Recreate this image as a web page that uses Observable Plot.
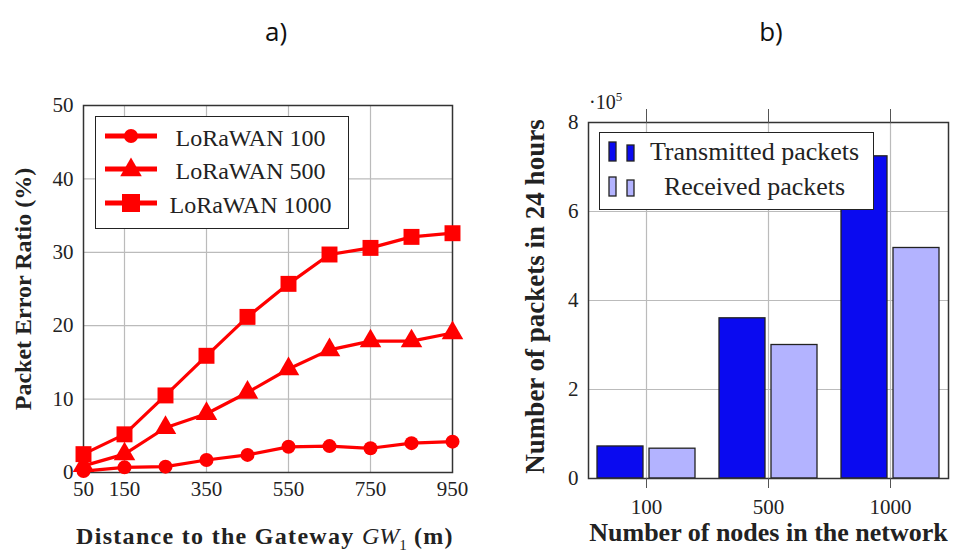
<!DOCTYPE html>
<html><head><meta charset="utf-8">
<script src="https://cdn.jsdelivr.net/npm/d3@7"></script>
<script src="https://cdn.jsdelivr.net/npm/@observablehq/plot@0.6"></script>
<style>
html,body{margin:0;padding:0;background:#fff;}
#wrap{position:relative;width:965px;height:553px;overflow:hidden;font-family:"Liberation Serif","DejaVu Serif",serif;color:#222;}
#wrap svg{position:absolute;top:0;}
.title{position:absolute;top:13px;font-family:"Open Sans","Liberation Sans",sans-serif;font-size:26px;color:#111;width:60px;text-align:center;}
.legend{position:absolute;background:#fff;border:1.5px solid #222;box-sizing:border-box;}
.row{position:absolute;left:0;right:0;height:32px;display:flex;align-items:center;}
.xlab{position:absolute;font-weight:bold;font-size:24px;letter-spacing:1.3px;text-align:center;line-height:28px;}
</style></head>
<body><div id="wrap"></div>
<script>
// ---- data: chart a) ----
const distance = [50,150,250,350,450,550,650,750,850,950];
const per100  = [0.2,0.7,0.8,1.7,2.4,3.5,3.6,3.3,4.0,4.2];
const per500  = [0.9,2.5,6.1,8.0,10.9,14.1,16.7,17.9,17.9,19.0];
const per1000 = [2.5,5.2,10.5,15.9,21.2,25.7,29.7,30.6,32.1,32.6];
const seriesNames = ["LoRaWAN 100","LoRaWAN 500","LoRaWAN 1000"];
const xTicksA = [50,150,350,550,750,950];
const yTicksA = [0,10,20,30,40,50];
// ---- data: chart b) ----
const nodes = ["100","500","1000"];
const transmitted = [72000,360000,724000];
const received = [67000,300000,518000];
const barSeries = ["Transmitted packets","Received packets"];
const yTicksB = [0,200000,400000,600000,800000];

const FONT = '"Liberation Serif","DejaVu Serif",serif';
const wrap = document.getElementById("wrap");
const red = "#ff0000";

const tableA = [];
[per100, per500, per1000].forEach((arr, k) => arr.forEach((v, i) => tableA.push({series: seriesNames[k], d: distance[i], v})));
const symbols = {"LoRaWAN 100": "circle", "LoRaWAN 500": "triangle", "LoRaWAN 1000": "square"};
const sizes = {"LoRaWAN 100": 7, "LoRaWAN 500": 8, "LoRaWAN 1000": 9};

const plotA = Plot.plot({
  width: 480, height: 553,
  marginLeft: 83, marginRight: 28, marginTop: 105, marginBottom: 81,
  style: {fontFamily: FONT, fontSize: "21px", color: "#222", background: "transparent", overflow: "visible"},
  x: {domain: [50, 950], ticks: xTicksA},
  y: {domain: [0, 50], ticks: yTicksA},
  symbol: {type: "identity"},
  marks: [
    Plot.gridX(xTicksA.slice(1, -1), {stroke: "#bbb", strokeOpacity: 1, strokeWidth: 1.2}),
    Plot.gridY(yTicksA.slice(1, -1), {stroke: "#bbb", strokeOpacity: 1, strokeWidth: 1.2}),
    Plot.frame({stroke: "#333", strokeWidth: 1.5}),
    Plot.axisX(xTicksA, {tickSize: 0, tickPadding: 9, label: null, fontFamily: FONT, fontSize: 21}),
    Plot.axisY(yTicksA, {tickSize: 0, tickPadding: 10, label: null, fontFamily: FONT, fontSize: 21}),
    Plot.line(tableA, {x: "d", y: "v", z: "series", stroke: red, strokeWidth: 3.2}),
    ...seriesNames.map(s => Plot.dot(tableA.filter(r => r.series === s), {x: "d", y: "v", symbol: () => symbols[s], r: sizes[s], fill: red, stroke: "none"})),
    Plot.text(["Packet Error Ratio (%)"], {frameAnchor: "left", textAnchor: "middle", rotate: -90, dx: -60, fontWeight: "bold", fontSize: 24, letterSpacing: 0.7, fill: "#222"})
  ]
});
plotA.style.left = "0px";
wrap.appendChild(plotA);

const tableB = [];
nodes.forEach((n, i) => {
  tableB.push({nodes: n, series: barSeries[0], v: transmitted[i]});
  tableB.push({nodes: n, series: barSeries[1], v: received[i]});
});
const fills = {"Transmitted packets": "#0a0af0", "Received packets": "#b3b3ff"};

const plotB = Plot.plot({
  width: 485, height: 553,
  marginLeft: 108, marginRight: 17, marginTop: 122, marginBottom: 75,
  style: {fontFamily: FONT, fontSize: "21px", color: "#222", background: "transparent", overflow: "visible"},
  x: {type: "band", domain: nodes, paddingInner: 0.2, paddingOuter: 0.065},
  y: {domain: [0, 800000], ticks: yTicksB},
  marks: [
    Plot.gridX({stroke: "#bbb", strokeOpacity: 1, strokeWidth: 1.2}),
    Plot.gridY(yTicksB.slice(1, -1), {stroke: "#bbb", strokeOpacity: 1, strokeWidth: 1.2}),
    Plot.barY(tableB.filter(r => r.series === barSeries[0]), {x: "nodes", y: "v", fill: fills[barSeries[0]], stroke: "#222", strokeWidth: 1.3, insetRight: 52}),
    Plot.barY(tableB.filter(r => r.series === barSeries[1]), {x: "nodes", y: "v", fill: fills[barSeries[1]], stroke: "#222", strokeWidth: 1.3, insetLeft: 52}),
    Plot.frame({stroke: "#333", strokeWidth: 1.5}),
    Plot.axisX({anchor: "bottom", tickSize: 10, tickPadding: 11, label: null, stroke: "#555", fontFamily: FONT, fontSize: 21}),
    Plot.axisX({anchor: "top", tickSize: 14, tickFormat: () => "", label: null, stroke: "#555"}),
    Plot.axisY(yTicksB, {tickSize: 0, tickPadding: 10, label: null, tickFormat: d => d / 1e5, fontFamily: FONT, fontSize: 21}),
    Plot.text(["Number of packets in 24 hours"], {frameAnchor: "left", textAnchor: "middle", rotate: -90, dx: -53, dy: -4, fontWeight: "bold", fontSize: 27, letterSpacing: 1, fill: "#222"}),
    Plot.text(["Number of nodes in the network"], {frameAnchor: "bottom", textAnchor: "middle", dy: 62, fontWeight: "bold", fontSize: 26, letterSpacing: 1.3, fill: "#222"})
  ]
});
plotB.style.left = "480px";
wrap.appendChild(plotB);

// titles
wrap.insertAdjacentHTML("beforeend", `<div class="title" style="left:246px">a)</div><div class="title" style="left:741px">b)</div>`);
// left x label
wrap.insertAdjacentHTML("beforeend", `<div class="xlab" style="left:40px;width:450px;top:522px">Distance to the Gateway <i style="font-weight:normal;letter-spacing:0">GW</i><sub style="font-weight:normal;font-size:15px;letter-spacing:0">1</sub> (m)</div>`);
// exponent label
wrap.insertAdjacentHTML("beforeend", `<div style="position:absolute;left:589px;top:89px;font-size:20px">·10<sup style="font-size:13px">5</sup></div>`);

// legend a
function markerSvg(s) {
  let m;
  if (s === "circle") m = `<circle cx="26" cy="10" r="7" fill="${red}"/>`;
  else if (s === "triangle") m = `<path d="${d3.symbol(d3.symbolTriangle, Math.PI*8*8)()}" transform="translate(26,11)" fill="${red}"/>`;
  else m = `<rect x="17" y="1" width="18" height="18" fill="${red}"/>`;
  return `<svg width="54" height="20" style="position:static;overflow:visible"><line x1="0" x2="52" y1="10" y2="10" stroke="${red}" stroke-width="5"/>${m}</svg>`;
}
let legA = `<div class="legend" style="left:95px;top:116px;width:254px;height:113px">`;
seriesNames.forEach((s, i) => {
  legA += `<div class="row" style="top:${5 + i * 33.5}px;font-size:24px"><span style="margin-left:9px;width:54px;display:inline-block">${markerSvg(symbols[s])}</span><span style="flex:1;text-align:center;padding-right:6px">${s}</span></div>`;
});
legA += `</div>`;
wrap.insertAdjacentHTML("beforeend", legA);

// legend b
let legB = `<div class="legend" style="left:599px;top:132px;width:275px;height:78px">`;
barSeries.forEach((s, i) => {
  const f = fills[s];
  legB += `<div class="row" style="top:${3 + i * 35}px;font-size:26px"><svg width="36" height="22" style="position:static;margin-left:8px"><rect x="1" y="1" width="7" height="19" fill="${f}" stroke="#222" stroke-width="1.3"/><rect x="19" y="4" width="7" height="16" fill="${f}" stroke="#222" stroke-width="1.3"/></svg><span style="flex:1;text-align:center;margin-left:-8px">${s}</span></div>`;
});
legB += `</div>`;
wrap.insertAdjacentHTML("beforeend", legB);
</script>
</body></html>
